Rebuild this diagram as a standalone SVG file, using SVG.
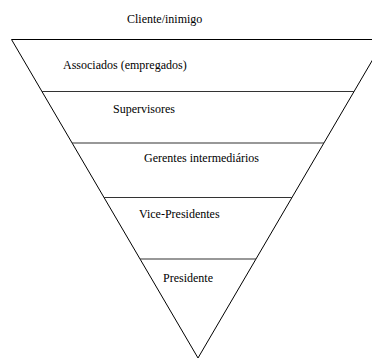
<svg xmlns="http://www.w3.org/2000/svg" width="372" height="358" viewBox="0 0 372 358">
<style>
.edge{stroke:#000;stroke-width:1;fill:none}
.sep{stroke:#333;stroke-width:1.2;fill:none}
.lbl{font-family:"Liberation Serif","Times New Roman",serif;font-size:12px;fill:#000}
</style>
<rect width="372" height="358" fill="#fff"/>
<g id="connectors">
<path class="edge" d="M11.5,39.5 L384.5,39.5 L198,358 Z"/>
<line class="sep" x1="42" y1="91.5" x2="354" y2="91.5"/>
<line class="sep" x1="72" y1="143" x2="324" y2="143"/>
<line class="sep" x1="104" y1="197.5" x2="292" y2="197.5"/>
<line class="sep" x1="140" y1="259" x2="256" y2="259"/>
</g>
<g id="cliente"><text class="lbl" x="127" y="23">Cliente/inimigo</text></g>
<g id="associados"><text class="lbl" x="63" y="68.5">Associados (empregados)</text></g>
<g id="supervisores"><text class="lbl" x="113" y="113">Supervisores</text></g>
<g id="gerentes"><text class="lbl" x="144" y="161.5">Gerentes intermediários</text></g>
<g id="vice"><text class="lbl" x="139" y="218">Vice-Presidentes</text></g>
<g id="presidente"><text class="lbl" x="163" y="281.5">Presidente</text></g>
</svg>
